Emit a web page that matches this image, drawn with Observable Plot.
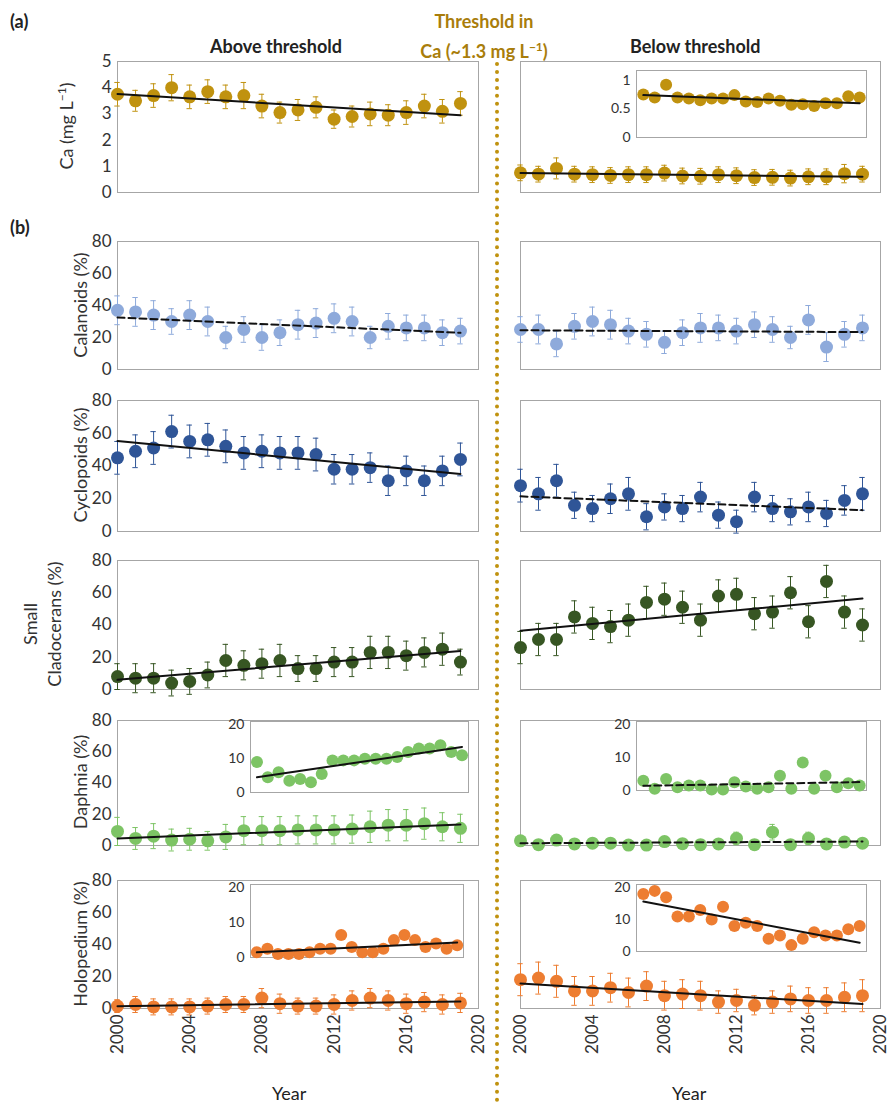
<!DOCTYPE html>
<html>
<head>
<meta charset="utf-8">
<script src="https://cdn.jsdelivr.net/npm/d3@7"></script>
<script src="https://cdn.jsdelivr.net/npm/@observablehq/plot@0.6"></script>
<style>
  body { margin: 0; background: #fff; font-family: Lato, sans-serif; }
  #wrap { position: relative; width: 893px; height: 1103px; overflow: hidden; }
  #wrap svg { position: absolute; overflow: visible; }
  .t { position: absolute; color: #222; font-size: 18px; white-space: nowrap; }
  .b { font-weight: bold; }
  .yl { position: absolute; transform: translate(-50%, -50%) rotate(-90deg); font-size: 18px; color: #333; white-space: nowrap; text-align: center; line-height: 24px; }
</style>
</head>
<body>
<div id="wrap"></div>
<script>
const years = d3.range(2000, 2020)

// Ca (mg/L)
const caAbove = [3.75,3.5,3.7,4.0,3.65,3.85,3.65,3.7,3.3,3.05,3.15,3.25,2.8,2.9,3.0,2.95,3.05,3.3,3.1,3.4]
const caAboveErr = [0.45,0.4,0.45,0.5,0.45,0.45,0.45,0.5,0.45,0.4,0.4,0.4,0.35,0.4,0.45,0.4,0.45,0.45,0.45,0.45]
const caBelow = [0.75,0.7,0.92,0.7,0.68,0.65,0.68,0.68,0.74,0.63,0.62,0.68,0.64,0.57,0.58,0.55,0.6,0.6,0.72,0.7]
const caBelowErr = [0.3,0.3,0.4,0.3,0.3,0.3,0.3,0.3,0.3,0.3,0.3,0.3,0.3,0.3,0.3,0.3,0.3,0.3,0.35,0.3]

// Calanoids (%)
const calAbove = [37,36,34,30,34,30,20,25,20,23,28,29,32,30,20,27,26,26,23,24]
const calAboveErr = [9,9,9,8,9,9,7,8,8,8,9,9,9,9,7,8,8,8,8,8]
const calBelow = [25,25,16,27,30,28,24,22,17,23,26,26,24,28,25,20,31,14,22,26]
const calBelowErr = [8,9,8,8,9,9,8,8,7,8,9,8,8,8,8,7,9,9,8,8]

// Cyclopoids (%)
const cycAbove = [45,49,51,61,55,56,52,48,49,48,48,47,38,38,39,31,37,31,37,44]
const cycAboveErr = [10,10,10,10,10,10,10,10,10,10,10,10,9,9,9,9,9,9,9,10]
const cycBelow = [28,23,31,16,14,20,23,9,15,14,21,10,6,21,14,12,15,11,19,23]
const cycBelowErr = [10,10,10,8,8,9,10,8,8,8,9,8,7,9,8,8,9,8,9,10]

// Small cladocerans (%)
const smAbove = [8,7,7,4,5,9,18,15,16,18,13,13,17,17,23,23,21,23,25,17]
const smAboveErr = [8,9,9,8,8,8,10,9,9,10,8,8,9,9,10,10,9,9,10,8]
const smBelow = [26,31,31,45,41,39,43,54,56,51,43,58,59,47,48,60,42,67,48,40]
const smBelowErr = [10,10,10,10,10,10,10,10,10,10,10,10,10,10,10,10,10,10,10,10]

// Daphnia (%)
const daAbove = [9,4.5,6,3.5,4,3,5.5,9.5,9.5,9.5,10,10,10,10.5,12,13,13,14,12,11]
const daAboveErr = [9,7,8,7,7,6,8,9,9,9,9,9,9,9,10,10,10,10,9,9]
const daBelow = [3,0.5,3.5,1,1.5,1.5,0.3,0.3,2.5,1.2,0.5,1,4.5,0.5,8.5,0.5,4.5,1,2.2,1.5]
const daBelowErr = [3,2,3,2,2,2,1,1,3,2,2,2,4,2,5,2,4,2,3,2]

// Holopedium (%)
const hoAbove = [1.5,2.5,1,1,1,1.5,2.5,2.5,6.5,3,1.5,1.5,2.5,5,6.5,5,3,4,2.5,3.5]
const hoAboveErr = [4,5,5,5,5,5,5,5,6,6,5,5,6,6,6,6,6,6,6,6]
const hoBelow = [18,19,17,11,11,13,10,14,8,9,8,4,5,2,4,6,5,5,7,8]
const hoBelowErr = [10,10,10,9,9,9,9,9,9,9,9,7,7,6,7,8,8,8,9,10]

const xTicks = [2000,2004,2008,2012,2016,2020]
const wrap = d3.select('#wrap')

function rows(vals, errs) {
  return years.map((y, i) => ({year: y, v: vals[i], lo: vals[i] - (errs ? errs[i] : 0), hi: vals[i] + (errs ? errs[i] : 0)}))
}

function panel(o) {
  const ml = o.ml ?? 40, mr = 4, mt = 10, mb = o.xAxis ? 60 : 4
  const data = rows(o.vals, o.errs)
  const marks = [Plot.frame({stroke: '#a6a6a6'})]
  if (o.errs) {
    marks.push(
      Plot.ruleX(data, {x: 'year', y1: 'lo', y2: 'hi', stroke: o.color, strokeWidth: 1}),
      Plot.ruleY(data, {y: 'lo', x1: d => d.year - 0.15, x2: d => d.year + 0.15, stroke: o.color}),
      Plot.ruleY(data, {y: 'hi', x1: d => d.year - 0.15, x2: d => d.year + 0.15, stroke: o.color})
    )
  }
  marks.push(
    Plot.dot(data, {x: 'year', y: 'v', r: o.r ?? 6.5, fill: o.color}),
    Plot.linearRegressionY(data, {x: 'year', y: 'v', ci: 0, stroke: '#111', strokeWidth: 2, strokeDasharray: o.dashed ? '7,4' : null})
  )
  if (o.yTicks) marks.push(Plot.axisY({ticks: o.yTicks, tickFormat: d => String(d), label: null, tickSize: 0, tickPadding: 6, fontSize: o.fs ?? 17}))
  if (o.xAxis) marks.push(Plot.axisX({ticks: xTicks, tickFormat: d => String(d), label: null, tickRotate: -90, tickSize: 0, tickPadding: 6, fontSize: 17}))
  const chart = Plot.plot({
    width: o.w + ml + mr, height: o.h + mt + mb,
    marginLeft: ml, marginRight: mr, marginTop: mt, marginBottom: mb,
    x: {domain: o.xDomain ?? [2000, 2020], axis: null, label: null},
    y: {domain: o.yDomain, axis: null, label: null},
    style: {background: 'transparent', fontFamily: 'Lato', color: '#333', overflow: 'visible'},
    marks
  })
  d3.select(chart).style('left', (o.left - ml) + 'px').style('top', (o.top - mt) + 'px')
  if (o.bg) {
    d3.select(chart).insert('rect', ':first-child').attr('x', ml).attr('y', mt).attr('width', o.w).attr('height', o.h).attr('fill', '#fff')
  }
  wrap.append(() => chart)
}

const L = 117, R = 520, W = 361, WR = 360
const pct = [0, 80], pTicks = [0,20,40,60,80]

// (a) Ca
panel({left: L, top: 61, w: W, h: 131, yDomain: [0,5], yTicks: [0,1,2,3,4,5], vals: caAbove, errs: caAboveErr, color: '#c0920f'})
panel({left: R, top: 61, w: WR, h: 131, yDomain: [0,5], vals: caBelow, errs: caBelowErr, color: '#c0920f'})
panel({left: 636, top: 70, w: 230, h: 67, yDomain: [0,1.17], yTicks: [0,0.5,1], fs: 14, ml: 30, r: 6, xDomain: [1999.4,2019.6], vals: caBelow, color: '#c0920f', bg: true})

// (b)
const rowsDef = [
  {top: 241, h: 128, a: calAbove, ae: calAboveErr, b: calBelow, be: calBelowErr, c: '#8eaadb', da: true, db: true},
  {top: 400, h: 131, a: cycAbove, ae: cycAboveErr, b: cycBelow, be: cycBelowErr, c: '#2f5597', da: false, db: true},
  {top: 560, h: 129, a: smAbove, ae: smAboveErr, b: smBelow, be: smBelowErr, c: '#375623', da: false, db: false},
  {top: 720, h: 125, a: daAbove, ae: daAboveErr, b: daBelow, be: daBelowErr, c: '#7dc465', da: false, db: true},
  {top: 880, h: 128, a: hoAbove, ae: hoAboveErr, b: hoBelow, be: hoBelowErr, c: '#ed7d31', da: false, db: false, x: true}
]
rowsDef.forEach(d => {
  panel({left: L, top: d.top, w: W, h: d.h, yDomain: pct, yTicks: pTicks, vals: d.a, errs: d.ae, color: d.c, dashed: d.da, xAxis: d.x})
  panel({left: R, top: d.top, w: WR, h: d.h, yDomain: pct, vals: d.b, errs: d.be, color: d.c, dashed: d.db, xAxis: d.x})
})

// insets (0-20 %)
const inset = {yDomain: [0,21], yTicks: [0,10,20], fs: 14, ml: 30, r: 6, xDomain: [1999.4,2019.6], bg: true}
panel({...inset, left: 250, top: 721, w: 218, h: 71, vals: daAbove, color: '#7dc465'})
panel({...inset, left: 636, top: 721, w: 230, h: 69, vals: daBelow, color: '#7dc465', dashed: true})
panel({...inset, left: 250, top: 884, w: 213, h: 73, vals: hoAbove, color: '#ed7d31'})
panel({...inset, left: 636, top: 884, w: 230, h: 67, vals: hoBelow, color: '#ed7d31'})

// threshold divider
wrap.append('div').style('position','absolute').style('left','495px').style('top','62px').style('width','0').style('height','1041px').style('border-left','4px dotted #c0920f')

// texts
const txt = (html, x, y, cls) => wrap.append('div').attr('class', 't ' + (cls||'')).style('left', x + 'px').style('top', y + 'px').html(html)
txt('(a)', 10, 10, 'b')
txt('(b)', 10, 216, 'b')
txt('Above threshold', 210, 35, 'b')
txt('Below threshold', 630, 35, 'b')
wrap.append('div').attr('class','t b').style('left','484px').style('top','8px').style('transform','translateX(-50%)').style('text-align','center').style('color','#a97d0b').style('line-height','26px')
  .html('Threshold in<br>Ca (~1.3 mg L<sup style="font-size:12px">−1</sup>)')
txt('Year', 272, 1082)
txt('Year', 672, 1082)

const yl = (html, x, y) => wrap.append('div').attr('class','yl').style('left', x + 'px').style('top', y + 'px').html(html)
yl('Ca (mg L<sup style="font-size:12px">−1</sup>)', 64, 126)
yl('Calanoids (%)', 80, 305)
yl('Cyclopoids (%)', 80, 465)
yl('Small<br>Cladocerans (%)', 42, 624)
yl('Daphnia (%)', 80, 782)
yl('Holopedium (%)', 80, 944)
</script>
</body>
</html>
